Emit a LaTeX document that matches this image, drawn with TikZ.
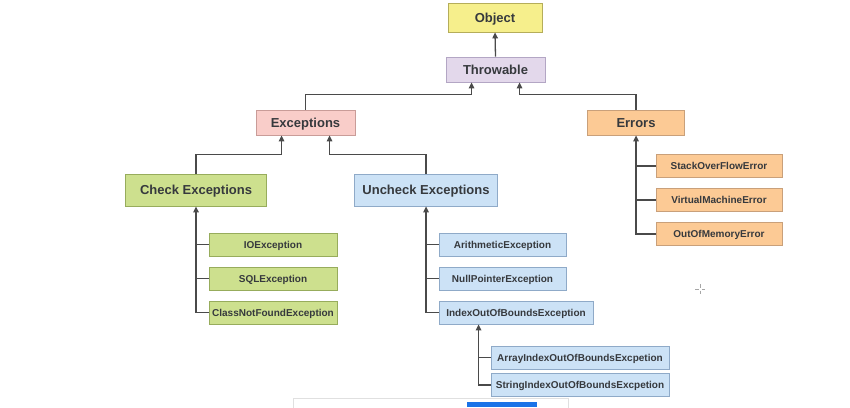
\documentclass[tikz,border=0pt]{standalone}
\usepackage{fontspec}
\setmainfont{Liberation Sans}
\usetikzlibrary{arrows.meta}
\definecolor{txt}{HTML}{36393D}
\definecolor{ln}{HTML}{4A4A4A}
\definecolor{yelF}{HTML}{F6EF8C}\definecolor{yelD}{HTML}{B5AD5A}
\definecolor{purF}{HTML}{E3D8EB}\definecolor{purD}{HTML}{B3A6C4}
\definecolor{redF}{HTML}{F9CDC9}\definecolor{redD}{HTML}{C99C98}
\definecolor{oraF}{HTML}{FCCA95}\definecolor{oraD}{HTML}{C9A07A}
\definecolor{grnF}{HTML}{CDE08E}\definecolor{grnD}{HTML}{97AC5C}
\definecolor{bluF}{HTML}{CCE2F6}\definecolor{bluD}{HTML}{8FAAC8}
\definecolor{btn}{RGB}{26,115,232}
\begin{document}
\begin{tikzpicture}[x=1pt,y=-1pt,
  box/.style={rectangle,draw,line width=0.8pt,inner sep=0pt,text=txt,
    text height=9.3pt,text depth=0.3pt,font=\bfseries\fontsize{13}{15}\selectfont},
  sbox/.style={box,minimum height=23pt,text height=7.2pt,text depth=0.2pt,
    font=\bfseries\fontsize{10}{12}\selectfont},
  yel/.style={fill=yelF,draw=yelD},
  pur/.style={fill=purF,draw=purD},
  red/.style={fill=redF,draw=redD},
  ora/.style={fill=oraF,draw=oraD},
  grn/.style={fill=grnF,draw=grnD},
  blu/.style={fill=bluF,draw=bluD},
  conn/.style={draw=ln,line width=1.3pt},
  arr/.style={conn,-{Triangle[length=6pt,width=5.5pt]}}
]
\useasboundingbox (0,0) rectangle (850,407);
\fill[white] (0,0) rectangle (850,407);

% main nodes
\node[box,yel,minimum width=94pt,minimum height=29pt] (obj) at (495,17.5) {Object};
\node[box,pur,minimum width=99pt,minimum height=25pt] (thr) at (495.5,69.5) {Throwable};
\node[box,red,minimum width=99pt,minimum height=25pt] (exc) at (305.5,122.5) {Exceptions};
\node[box,ora,minimum width=97pt,minimum height=25pt] (err) at (636,122.5) {Errors};
\node[box,grn,minimum width=141pt,minimum height=32pt] (chk) at (196,190) {Check Exceptions};
\node[box,blu,minimum width=143pt,minimum height=32pt] (unc) at (426,190) {Uncheck Exceptions};

% error children
\node[sbox,ora,minimum width=126pt] (so) at (719,166) {StackOverFlowError};
\node[sbox,ora,minimum width=126pt] (vm) at (719,200) {VirtualMachineError};
\node[sbox,ora,minimum width=126pt] (oom) at (719,234) {OutOfMemoryError};

% checked children
\node[sbox,grn,minimum width=128pt] (io) at (273,244.5) {IOException};
\node[sbox,grn,minimum width=128pt] (sql) at (273,278.5) {SQLException};
\node[sbox,grn,minimum width=128pt] (cnf) at (273,312.5) {ClassNotFoundException};

% unchecked children
\node[sbox,blu,minimum width=127pt] (ar) at (502.5,244.5) {ArithmeticException};
\node[sbox,blu,minimum width=127pt] (np) at (502.5,278.5) {NullPointerException};
\node[sbox,blu,minimum width=154pt] (ioob) at (516,312.5) {IndexOutOfBoundsException};

% index children
\node[sbox,blu,minimum width=178pt] (aioob) at (580,357.5) {ArrayIndexOutOfBoundsExcpetion};
\node[sbox,blu,minimum width=178pt] (sioob) at (580,385) {StringIndexOutOfBoundsExcpetion};

% connectors
\draw[arr] (thr.north) -- (obj.south);
\draw[arr] (exc.north) -- ++(0,-15) -| ([xshift=-24pt]thr.south);
\draw[arr] (err.north) -- ++(0,-15) -| ([xshift=24pt]thr.south);
\draw[arr] (chk.north) -- ++(0,-19) -| ([xshift=-24pt]exc.south);
\draw[arr] (unc.north) -- ++(0,-19) -| ([xshift=24pt]exc.south);

\draw[arr] (oom.west) -| (err.south);
\draw[conn] (so.west) -- (so.west -| err.south);
\draw[conn] (vm.west) -- (vm.west -| err.south);

\draw[arr] (cnf.west) -| (chk.south);
\draw[conn] (io.west) -- (io.west -| chk.south);
\draw[conn] (sql.west) -- (sql.west -| chk.south);

\draw[arr] (ioob.west) -| (unc.south);
\draw[conn] (ar.west) -- (ar.west -| unc.south);
\draw[conn] (np.west) -- (np.west -| unc.south);

\coordinate (ij) at ([xshift=40pt]ioob.south west);
\draw[arr] (sioob.west) -| (ij);
\draw[conn] (aioob.west) -- (aioob.west -| ij);

% screenshot artefacts
\draw[black!12,line width=0.8pt] (293,410) -- (293,398) -- (568,398) -- (568,410);
\fill[btn] (467,402) rectangle (537,407);
\draw[black!35,line width=0.6pt] (700,284) -- (700,287.5) (700,290.5) -- (700,294)
      (695,289) -- (698.5,289) (701.5,289) -- (705,289);
\end{tikzpicture}
\end{document}
